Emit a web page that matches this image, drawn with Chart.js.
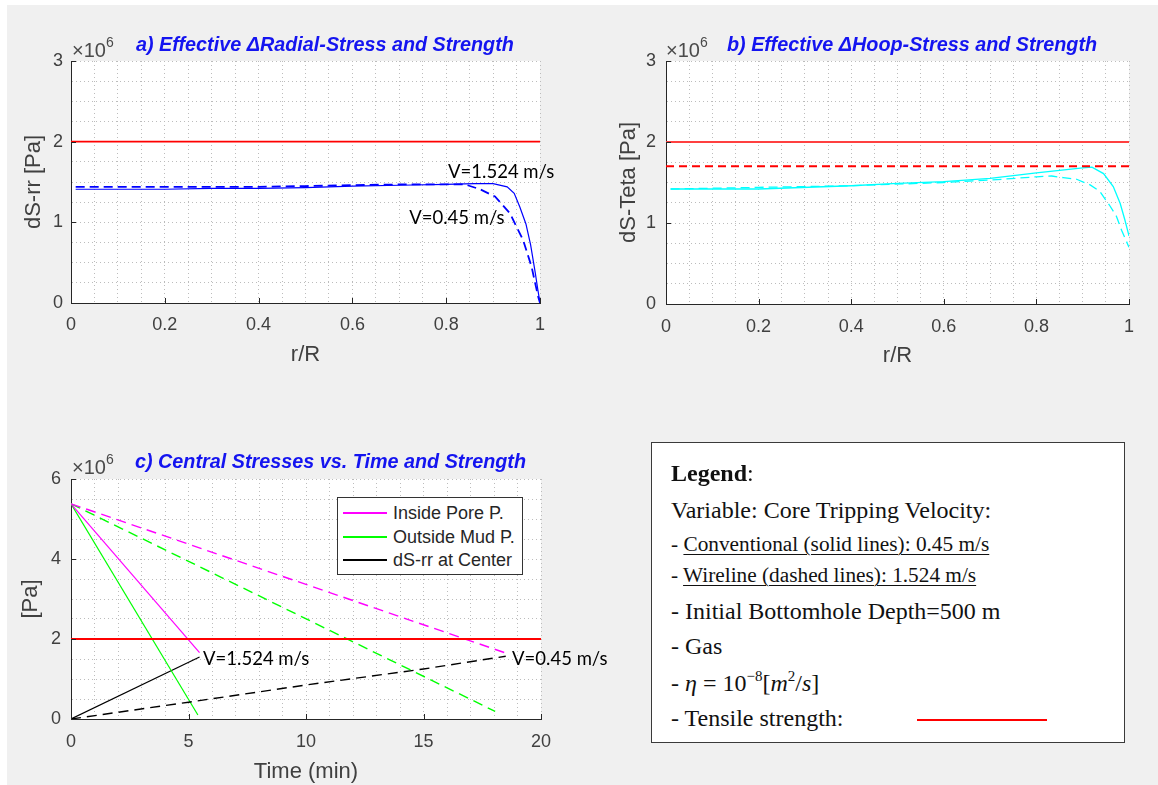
<!DOCTYPE html>
<html>
<head>
<meta charset="utf-8">
<script src="https://cdn.jsdelivr.net/npm/chart.js@4.4.1/dist/chart.umd.min.js"></script>
<style>
  body { margin: 0; background: #f0f0f0; width: 1158px; height: 785px; position: relative; overflow: hidden; }
  canvas { position: absolute; }
  .strip { position: absolute; background: #fff; }
  .ttl { position: absolute; font: italic bold 19.8px "Liberation Sans", Arial, sans-serif; color: #1414f0; line-height: 1; white-space: nowrap; }
  .exp { position: absolute; font: 20px "Liberation Sans", Arial, sans-serif; color: #4a4a4a; line-height: 1; white-space: nowrap; }
  .exp span { font-size: 14px; position: relative; top: -10px; }
  #legC { position: absolute; left: 337px; top: 497px; width: 186px; height: 78px; box-sizing: border-box;
          border: 1.5px solid #333; background: #fff; font: 18px "Liberation Sans", Arial, sans-serif; color: #262626; }
  #legC .row { position: absolute; left: 5px; height: 20px; white-space: nowrap; }
  #legC .sw { position: absolute; left: 0; top: 9px; width: 44px; height: 1.5px; }
  #legC .txt { position: absolute; left: 50px; top: 0; line-height: 20px; }
  #legBox { position: absolute; left: 651px; top: 442px; width: 474px; height: 301px; box-sizing: border-box;
            border: 1.5px solid #3a3a3a; background: #fff; }
  .lt { position: absolute; left: 671px; font: 24px "Liberation Serif", "Times New Roman", serif; color: #111; line-height: 1; white-space: nowrap; }
  .lt.small { font-size: 21.3px; }
  .lt u { text-decoration-thickness: 1px; text-underline-offset: 3px; }
  .lt .sup { font-size: 15px; position: relative; top: -10px; }
  #redKey { position: absolute; left: 917px; top: 719px; width: 130px; height: 2px; background: #ff0000; }
</style>
</head>
<body>
<div class="strip" style="left:0;top:0;width:1158px;height:5px"></div>
<div class="strip" style="left:0;top:0;width:7px;height:785px"></div>

<canvas id="chartA" width="580" height="380" style="left:0;top:0"></canvas>
<canvas id="chartB" width="578" height="380" style="left:580px;top:0"></canvas>
<canvas id="chartC" width="640" height="385" style="left:0;top:400px"></canvas>

<div class="ttl" style="left:136px;top:35px">a) Effective ΔRadial-Stress and Strength</div>
<div class="ttl" style="left:727px;top:35px">b) Effective ΔHoop-Stress and Strength</div>
<div class="ttl" style="left:135px;top:452px">c) Central Stresses vs. Time and Strength</div>

<div class="exp" style="left:72px;top:40px">×10<span>6</span></div>
<div class="exp" style="left:666px;top:40px">×10<span>6</span></div>
<div class="exp" style="left:72px;top:457px">×10<span>6</span></div>

<div id="legC">
  <div class="row" style="top:5px"><div class="sw" style="background:#ff00ff"></div><div class="txt">Inside Pore P.</div></div>
  <div class="row" style="top:29px"><div class="sw" style="background:#00ff00"></div><div class="txt">Outside Mud P.</div></div>
  <div class="row" style="top:52px"><div class="sw" style="background:#000"></div><div class="txt">dS-rr at Center</div></div>
</div>

<div id="legBox"></div>
<div class="lt" style="top:461px"><b>Legend</b>:</div>
<div class="lt" style="top:498px">Variable: Core Tripping Velocity:</div>
<div class="lt small" style="top:534px">- <u>Conventional (solid lines): 0.45 m/s</u></div>
<div class="lt small" style="top:565px">- <u>Wireline (dashed lines): 1.524 m/s</u></div>
<div class="lt" style="top:599px">- Initial Bottomhole Depth=500 m</div>
<div class="lt" style="top:634px">- Gas</div>
<div class="lt" style="top:671px">- <i>η</i> = 10<span class="sup">−8</span>[<i>m</i><span class="sup">2</span>/<i>s</i>]</div>
<div class="lt" style="top:706px">- Tensile strength:</div>
<div id="redKey"></div>

<script>
// values are in units of 1e6 Pa (the axes show x10^6)

// a) radial stress vs r/R
const rSolidA = [0.01, 0.1, 0.2, 0.3, 0.4, 0.5, 0.6, 0.7, 0.8, 0.86, 0.9, 0.93, 0.945, 0.957, 0.97, 0.98, 0.99, 0.995, 1.0];
const dsrrSolid = [1.41, 1.41, 1.41, 1.42, 1.42, 1.43, 1.45, 1.46, 1.47, 1.48, 1.48, 1.44, 1.36, 1.19, 0.98, 0.72, 0.37, 0.18, 0.0];
const rDashA = [0.01, 0.1, 0.2, 0.3, 0.4, 0.5, 0.6, 0.7, 0.8, 0.84, 0.872, 0.904, 0.936, 0.964, 0.982, 0.996, 1.0];
const dsrrDash = [1.44, 1.44, 1.44, 1.44, 1.44, 1.45, 1.46, 1.47, 1.47, 1.47, 1.41, 1.32, 1.11, 0.78, 0.45, 0.08, 0.0];

// b) hoop stress vs r/R
const rSolidB = [0.01, 0.2, 0.4, 0.5, 0.6, 0.7, 0.8, 0.85, 0.9, 0.92, 0.945, 0.966, 0.981, 0.991, 1.0];
const dsttSolid = [1.42, 1.42, 1.46, 1.49, 1.51, 1.55, 1.62, 1.65, 1.68, 1.69, 1.61, 1.45, 1.24, 1.04, 0.84];
const rDashB = [0.01, 0.2, 0.4, 0.6, 0.7, 0.8, 0.833, 0.858, 0.887, 0.916, 0.937, 0.959, 0.973, 0.984, 1.0];
const dsttDash = [1.42, 1.44, 1.46, 1.50, 1.53, 1.57, 1.58, 1.56, 1.54, 1.47, 1.39, 1.21, 1.08, 0.91, 0.70];

// strength lines
const rEnds = [0, 1];
const tensile = [2, 2];
const tensileB = [1.7, 1.7];

// c) central stresses vs time (min)
const tPoreSolid = [0, 5.47];
const poreSolid = [5.38, 1.66];
const tMudSolid = [0, 5.4];
const mudSolid = [5.38, 0.1];
const tRrSolid = [0, 5.47];
const rrSolid = [0, 1.55];
const tPoreDash = [0, 18.5];
const poreDash = [5.38, 1.65];
const tMudDash = [0, 18.05];
const mudDash = [5.38, 0.19];
const tRrDash = [0, 5, 10, 15, 18.5];
const rrDash = [0, 0.42, 0.85, 1.25, 1.57];
const tEnds = [0, 20];

// tick labels
const rTicks = [0, 0.2, 0.4, 0.6, 0.8, 1];
const stressTicks = [0, 1, 2, 3];
const timeTicks = [0, 5, 10, 15, 20];
const paTicks = [0, 2, 4, 6];

const FONT = '"Liberation Sans", Arial, sans-serif';
const NOTE_FONT = '18.5px Lato, "Open Sans", sans-serif';

const pts = (xs, ys) => xs.map((x, i) => ({ x, y: ys[i] }));

function line(xs, ys, color, width, dash) {
  return {
    data: pts(xs, ys),
    borderColor: color,
    borderWidth: width,
    borderDash: dash || [],
    pointRadius: 0,
    fill: false,
    tension: 0,
  };
}

function axis(min, max, step, majors, title, fit, tickPad, titlePad, horizontal) {
  return {
    type: "linear",
    min,
    max,
    ticks: {
      stepSize: step,
      autoSkip: false,
      maxRotation: 0,
      padding: tickPad,
      color: "#404040",
      font: { family: FONT, size: 18 },
      callback: (v) =>
        majors.some((m) => Math.abs(m - v) < 1e-9) ? String(Math.round(v * 100) / 100) : "",
    },
    grid: { color: "#bcbcbc", lineWidth: 1, drawTicks: false },
    border: { display: true, color: "#262626", width: 1, dash: [1, 3] },
    title: {
      display: true,
      text: title,
      color: "#404040",
      font: { family: FONT, size: 22 },
      padding: horizontal ? { top: 0, bottom: titlePad } : { top: titlePad, bottom: 0 },
    },
    afterFit: (s) => {
      if (horizontal) s.height = fit;
      else s.width = fit;
    },
  };
}

// white plot box, inner tick marks and the V= notes
function decor(xMajors, yMajors, notes) {
  return {
    id: "decor",
    beforeDraw(chart) {
      const { ctx, chartArea: a } = chart;
      ctx.save();
      ctx.fillStyle = "#fff";
      ctx.fillRect(a.left, a.top, a.right - a.left, a.bottom - a.top);
      ctx.restore();
    },
    afterDatasetsDraw(chart) {
      const { ctx, chartArea: a, scales } = chart;
      ctx.save();
      ctx.strokeStyle = "#262626";
      ctx.lineWidth = 1;
      ctx.beginPath();
      xMajors.forEach((m) => {
        const px = Math.round(scales.x.getPixelForValue(m)) + 0.5;
        ctx.moveTo(px, a.bottom);
        ctx.lineTo(px, a.bottom - 5);
      });
      yMajors.forEach((m) => {
        const py = Math.round(scales.y.getPixelForValue(m)) + 0.5;
        ctx.moveTo(a.left, py);
        ctx.lineTo(a.left + 5, py);
      });
      ctx.stroke();
      ctx.fillStyle = "#000";
      ctx.font = NOTE_FONT;
      ctx.textAlign = "left";
      ctx.textBaseline = "middle";
      notes.forEach((n) => {
        ctx.fillText(n.text, scales.x.getPixelForValue(n.x), scales.y.getPixelForValue(n.y));
      });
      ctx.restore();
    },
  };
}

function makeChart(id, datasets, x, y, padding, plugin) {
  return new Chart(document.getElementById(id), {
    type: "line",
    data: { datasets },
    options: {
      responsive: false,
      animation: false,
      devicePixelRatio: 1,
      layout: { padding },
      plugins: { legend: { display: false }, tooltip: { enabled: false } },
      scales: { x, y },
    },
    plugins: [plugin],
  });
}

makeChart(
  "chartA",
  [
    line(rEnds, tensile, "#ff0000", 1.8),
    line(rDashA, dsrrDash, "#0000ff", 1.8, [9, 5]),
    line(rSolidA, dsrrSolid, "#0000ff", 1.2),
  ],
  axis(0, 1, 0.05, rTicks, "r/R", 77, 11, 12, true),
  axis(0, 3, 0.25, stressTicks, "dS-rr [Pa]", 71, 8, 21, false),
  { top: 61, right: 40, left: 0, bottom: 0 },
  decor(rTicks, stressTicks, [
    { x: 0.804, y: 1.628, text: "V=1.524 m/s" },
    { x: 0.721, y: 1.054, text: "V=0.45 m/s" },
  ])
);

makeChart(
  "chartB",
  [
    line(rEnds, tensile, "#ff4040", 1.8),
    line(rEnds, tensileB, "#ff0000", 2, [8, 5]),
    line(rDashB, dsttDash, "#00ffff", 1.3, [9, 5]),
    line(rSolidB, dsttSolid, "#00ffff", 1.3),
  ],
  axis(0, 1, 0.05, rTicks, "r/R", 76, 12, 11, true),
  axis(0, 3, 0.25, stressTicks, "dS-Teta [Pa]", 86, 10, 36, false),
  { top: 61, right: 29, left: 0, bottom: 0 },
  decor(rTicks, stressTicks, [])
);

makeChart(
  "chartC",
  [
    line(tEnds, tensile, "#ff0000", 1.8),
    line(tPoreDash, poreDash, "#ff00ff", 1.4, [10, 6]),
    line(tMudDash, mudDash, "#00ff00", 1.4, [10, 6]),
    line(tRrDash, rrDash, "#000000", 1.4, [10, 6]),
    line(tPoreSolid, poreSolid, "#ff00ff", 1.2),
    line(tMudSolid, mudSolid, "#00ff00", 1.2),
    line(tRrSolid, rrSolid, "#000000", 1.2),
  ],
  axis(0, 20, 1, timeTicks, "Time (min)", 66, 12, 0, true),
  axis(0, 6, 0.5, paTicks, "[Pa]", 71, 10, 18, false),
  { top: 79, right: 99, left: 0, bottom: 0 },
  decor(timeTicks, paTicks, [
    { x: 5.62, y: 1.5, text: "V=1.524 m/s" },
    { x: 18.77, y: 1.5, text: "V=0.45 m/s" },
  ])
);
</script>
</body>
</html>
